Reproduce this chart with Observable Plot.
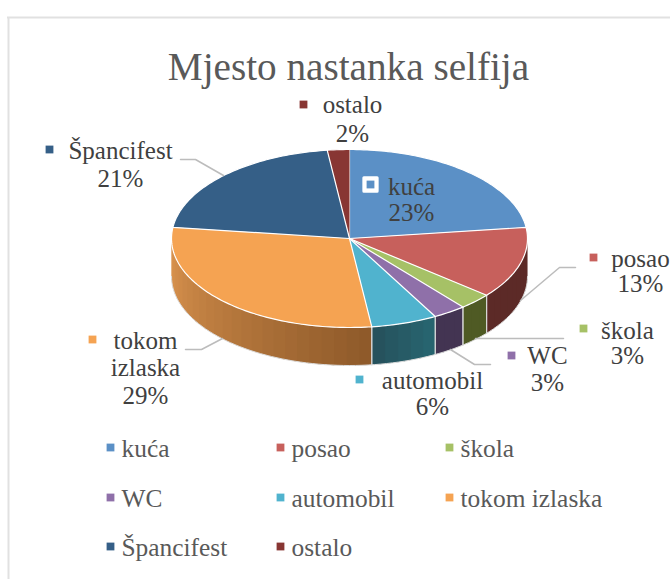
<!DOCTYPE html>
<html><head><meta charset="utf-8">
<script src="https://cdn.jsdelivr.net/npm/d3@7"></script>
<script src="https://cdn.jsdelivr.net/npm/@observablehq/plot@0.6"></script>
<style>html,body{margin:0;padding:0;background:#fff;overflow:hidden}svg{display:block}</style>
</head><body><div id="chart"></div>
<script>
const categories = ["kuća","posao","škola","WC","automobil","tokom izlaska","Špancifest","ostalo"];
const shares = [23,13,3,3,6,29,21,2];
const colors = ["#5b90c6","#c7605c","#a6c166","#8f70a9","#50b3ce","#f5a352","#355f87","#883633"];
const sideStart = ["#3a5c80","#5c2a27","#4f5a24","#433452","#27646f","#de9650","#223e58","#582320"];
const sideEnd   = ["#3a5c80","#5c2a27","#4f5a24","#433452","#264e59","#8f5a2a","#223e58","#582320"];
const titleText = "Mjesto nastanka selfija";

// Pie geometry (chart units: the top ellipse spans -1..1 on both axes)
const W = 670, H = 579, CX = 349, CY = 238, RX = 178, RY = 89, DEPTH = 38;
const ux = px => (px - CX) / RX, uy = py => (py - CY) / RY;
const d = DEPTH / RY;
const arcs = d3.pie().sort(null).startAngle(0).endAngle(2 * Math.PI).value(v => v)(shares);
const pt = a => [Math.sin(a), -Math.cos(a)];

const tops = [], sides = [], seams = [];
arcs.forEach((arc, i) => {
  const id = "t" + i, n = Math.ceil((arc.endAngle - arc.startAngle) / 0.02);
  tops.push({id, fill: colors[i], x: 0, y: 0});
  for (let k = 0; k <= n; k++) {
    const [x, y] = pt(arc.startAngle + (arc.endAngle - arc.startAngle) * k / n);
    tops.push({id, fill: colors[i], x, y});
  }
  // side wall: only the front half of the rim, banded as in the reference
  const a0 = Math.max(arc.startAngle, Math.PI / 2), a1 = Math.min(arc.endAngle, 3 * Math.PI / 2);
  if (a1 > a0) {
    const bands = Math.max(1, Math.round((a1 - a0) / 0.07));
    const mix = d3.interpolateRgb(sideStart[i], sideEnd[i]);
    // the orange wall runs dark at its right end (start angle) and light at its left
    const rev = i === 5;
    for (let b = 0; b < bands; b++) {
      const s = a0 + (a1 - a0) * b / bands, e = Math.min(a1, a0 + (a1 - a0) * (b + 1) / bands + 0.04);
      const fill = mix(rev ? 1 - b / bands : b / bands);
      const sid = `s${i}-${String(b).padStart(3, "0")}`, top = [], steps = 6;
      for (let k = 0; k <= steps; k++) { const [x, y] = pt(s + (e - s) * k / steps); top.push({id: sid, fill, x, y}); }
      const bottom = top.map(p => ({...p, y: p.y + d})).reverse();
      sides.push(...top, ...bottom);
    }
    for (const a of [arc.startAngle, arc.endAngle]) if (a > Math.PI / 2 && a < 3 * Math.PI / 2) {
      const [x, y] = pt(a);
      seams.push({id: "m" + i + a, x, y}, {id: "m" + i + a, x, y: y + d});
    }
  }
});
// outer silhouette of the wall
const rim = [];
for (let k = 0; k <= 90; k++) { const [x, y] = pt(Math.PI / 2 + Math.PI * k / 90); rim.push({x, y: y + d}); }

// Leader lines
const leaders = [
  [[180,159],[195,159],[223,175]],
  [[575,267],[559,267],[520,300]],
  [[563,338],[475,338]],
  [[490,364],[474,364],[450,349]],
  [[185,349],[201,349],[222,338]]
].flatMap((l, id) => l.map(([x, y]) => ({id, x: ux(x), y: uy(y)})));

// Data labels: marker position, text anchor and baselines
const place = [
  {i:7, mx:303, my:104, tx:352, lines:[["ostalo",112],["2%",141]]},
  {i:6, mx:49,  my:149, tx:120, lines:[["Špancifest",158],["21%",186]]},
  {i:0, mx:370, my:184, tx:411, lines:[["kuća",194],["23%",220]]},
  {i:1, mx:593, my:257, tx:640, lines:[["posao",266],["13%",291]]},
  {i:2, mx:583, my:328, tx:627, lines:[["škola",338],["3%",363]]},
  {i:3, mx:511, my:355, tx:547, lines:[["WC",363],["3%",390]]},
  {i:4, mx:359, my:379, tx:432, lines:[["automobil",388],["6%",414]]},
  {i:5, mx:92,  my:339, tx:145, lines:[["tokom",348],["izlaska",375],["29%",403]]}
];
const labelText = place.flatMap(p => p.lines.map(([text, y]) => ({text, x: ux(p.tx), y: uy(y)})));
const labelMarks = place.map(p => ({x: ux(p.mx), y: uy(p.my), fill: colors[p.i], i: p.i}));

// Legend
const legendCols = [110, 280, 449], legendRows = [447, 497, 546];
const legendItems = categories.map((c, i) => ({
  text: c, fill: colors[i],
  x: ux(legendCols[i % 3]), tx: ux(legendCols[i % 3] + 11),
  y: uy(legendRows[Math.floor(i / 3)]), ty: uy(legendRows[Math.floor(i / 3)] + 9)
}));

const font = "Liberation Serif";
const chart = Plot.plot({
  width: W, height: H, margin: 0,
  style: {background: "#fff", fontFamily: font},
  x: {type: "linear", domain: [ux(0), ux(W)], range: [0, W], axis: null},
  y: {type: "linear", domain: [uy(0), uy(H)], range: [0, H], axis: null},
  color: {type: "identity"},
  marks: [
    // frame
    Plot.ruleX([ux(8)], {y1: uy(17), y2: uy(H), stroke: "#e1e1e1", strokeWidth: 2}),
    Plot.ruleY([uy(17)], {x1: ux(7), x2: ux(W), stroke: "#e1e1e1", strokeWidth: 2}),
    // walls
    Plot.line(sides, {x: "x", y: "y", z: "id", fill: "fill", stroke: null, curve: "linear", sort: null}),
    Plot.line(seams, {x: "x", y: "y", z: "id", stroke: "#d8d8d8", strokeWidth: 1}),
    Plot.line(rim, {x: "x", y: "y", stroke: "#dcdcdc", strokeWidth: 1}),
    // top
    Plot.line(tops, {x: "x", y: "y", z: "id", fill: "fill", stroke: "#fff", strokeWidth: 1.2, strokeLinejoin: "round"}),
    // leaders
    Plot.line(leaders, {x: "x", y: "y", z: "id", stroke: "#bcbcbc", strokeWidth: 1.5, curve: "linear"}),
    // title
    Plot.text([titleText], {x: ux(348), y: uy(79), text: d => d, fontSize: 39.2, fill: "#595959", textAnchor: "middle", lineAnchor: "bottom"}),
    // data labels
    Plot.dot(labelMarks.filter(m => m.i === 0), {x: "x", y: "y", symbol: "square", r: 7.5, fill: "#fff", stroke: "#fff", strokeWidth: 3, strokeLinejoin: "round"}),
    Plot.dot(labelMarks, {x: "x", y: "y", symbol: "square", r: 4.4, fill: "fill", stroke: null}),
    Plot.text(labelText, {x: "x", y: "y", text: "text", fontSize: 25, fill: "#404040", textAnchor: "middle", lineAnchor: "bottom"}),
    // legend
    Plot.dot(legendItems, {x: "x", y: "y", symbol: "square", r: 4.4, fill: "fill", stroke: null}),
    Plot.text(legendItems, {x: "tx", y: "ty", text: "text", fontSize: 25.4, fill: "#595959", textAnchor: "start", lineAnchor: "bottom"})
  ]
});
document.getElementById("chart").append(chart);
</script></body></html>
